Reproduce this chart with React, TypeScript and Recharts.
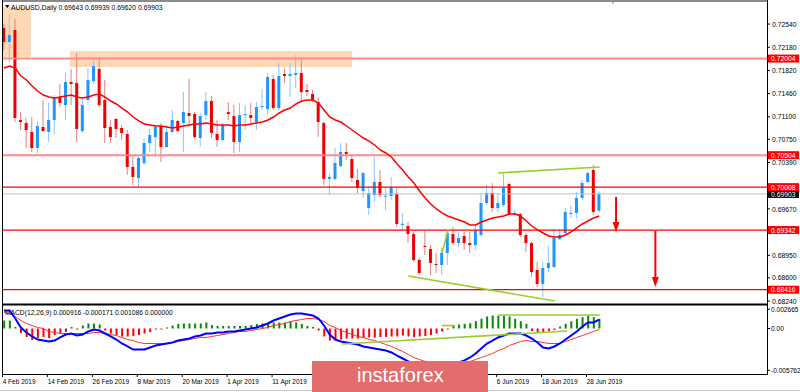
import React from 'react';
import { ComposedChart, Bar, Line, XAxis, YAxis, ReferenceLine, ReferenceArea } from 'recharts';

// AUDUSD daily, 4 Feb 2019 .. 2 Jul 2019 (bar index 0..106)
const opens = [
  0.72478, 0.72261, 0.72447, 0.7105, 0.71004, 0.70864, 0.70616, 0.70942, 0.70864, 0.7105,
  0.71407, 0.71283, 0.7164, 0.71625, 0.7088, 0.71361, 0.71656, 0.71842, 0.71361, 0.70942,
  0.71066, 0.70926, 0.70833, 0.70321, 0.7015, 0.70383, 0.70693, 0.70786, 0.70957, 0.70631,
  0.70864, 0.71035, 0.71004, 0.71159, 0.71143, 0.70771, 0.71128, 0.71345, 0.70833, 0.7074,
  0.71174, 0.71112, 0.70709, 0.71128, 0.71128, 0.71019, 0.71252, 0.71221, 0.71687, 0.71236,
  0.71764, 0.71733, 0.71749, 0.7178, 0.71516, 0.71454, 0.7133, 0.71004, 0.70135, 0.70135,
  0.70336, 0.70554, 0.70445, 0.70119, 0.69948, 0.69684, 0.69886, 0.70088, 0.69871, 0.69871,
  0.69902, 0.6942, 0.69405, 0.69281, 0.68877, 0.69095, 0.69048, 0.68815, 0.688, 0.68986,
  0.69281, 0.69141, 0.6925, 0.69141, 0.6911, 0.69265, 0.69762, 0.69917, 0.69684, 0.69731,
  0.70057, 0.69576, 0.69591, 0.69265, 0.69141, 0.68722, 0.68505, 0.68753, 0.68769, 0.69203,
  0.69296, 0.69591, 0.69607, 0.6984, 0.70088, 0.70274, 0.69643,
];
const highs = [
  0.7254, 0.7268, 0.7262, 0.71174, 0.71081, 0.71097, 0.71035, 0.71361, 0.71314, 0.71438,
  0.71609, 0.7178, 0.71842, 0.7209, 0.71407, 0.71857, 0.71982, 0.72013, 0.71671, 0.7105,
  0.71081, 0.70973, 0.70895, 0.70507, 0.70507, 0.70771, 0.70911, 0.70973, 0.71004, 0.70973,
  0.71205, 0.7105, 0.71485, 0.71687, 0.71174, 0.71159, 0.71485, 0.71423, 0.7105, 0.71004,
  0.7133, 0.71283, 0.71314, 0.71283, 0.71314, 0.7133, 0.71532, 0.7178, 0.71749, 0.71935,
  0.71842, 0.71935, 0.72059, 0.71997, 0.71609, 0.71516, 0.71407, 0.71019, 0.70228, 0.70616,
  0.70693, 0.70693, 0.70507, 0.7029, 0.70243, 0.70026, 0.70476, 0.70274, 0.7001, 0.70166,
  0.69995, 0.69607, 0.69467, 0.69312, 0.68908, 0.69327, 0.6911, 0.68986, 0.69064, 0.69343,
  0.69389, 0.69312, 0.69312, 0.69312, 0.6942, 0.69917, 0.70041, 0.70072, 0.69917, 0.70228,
  0.70072, 0.69653, 0.69607, 0.69296, 0.69157, 0.68846, 0.68846, 0.69095, 0.69358, 0.69358,
  0.69684, 0.69731, 0.69933, 0.70119, 0.70243, 0.70352, 0.69939,
];
const lows = [
  0.72137, 0.71951, 0.71019, 0.70895, 0.70616, 0.70554, 0.70538, 0.70864, 0.70709, 0.70817,
  0.71252, 0.7105, 0.71283, 0.70709, 0.70849, 0.71314, 0.71609, 0.71252, 0.70693, 0.70693,
  0.70771, 0.7074, 0.70197, 0.70041, 0.7001, 0.70352, 0.70554, 0.70476, 0.70398, 0.70616,
  0.70849, 0.70864, 0.70554, 0.70942, 0.70755, 0.70631, 0.7105, 0.70771, 0.70631, 0.70709,
  0.7105, 0.70538, 0.70554, 0.70895, 0.71004, 0.70895, 0.71205, 0.71128, 0.71205, 0.71205,
  0.71625, 0.71407, 0.71547, 0.7133, 0.71423, 0.7133, 0.70786, 0.70041, 0.69886, 0.70119,
  0.70321, 0.70429, 0.70088, 0.69917, 0.6984, 0.69576, 0.69778, 0.69855, 0.69653, 0.69809,
  0.69389, 0.69343, 0.69141, 0.68846, 0.68644, 0.68955, 0.68644, 0.68675, 0.68644, 0.688,
  0.6911, 0.69079, 0.69033, 0.68986, 0.69033, 0.69234, 0.69731, 0.69622, 0.69622, 0.697,
  0.69576, 0.69545, 0.69234, 0.69002, 0.68613, 0.68458, 0.68303, 0.68691, 0.68753, 0.69188,
  0.69265, 0.69529, 0.69529, 0.69809, 0.70072, 0.69576, 0.6962,
];
const closes = [
  0.72261, 0.7237, 0.71081, 0.71019, 0.70895, 0.70616, 0.70957, 0.7088, 0.7105, 0.71407,
  0.71314, 0.7164, 0.71609, 0.70911, 0.71283, 0.71671, 0.71888, 0.71283, 0.70926, 0.70786,
  0.70911, 0.70849, 0.70321, 0.70166, 0.7046, 0.70693, 0.70817, 0.70942, 0.70631, 0.70864,
  0.7105, 0.7088, 0.71174, 0.71112, 0.70786, 0.71112, 0.71345, 0.70849, 0.7074, 0.70973,
  0.71143, 0.70709, 0.71128, 0.71143, 0.71081, 0.71252, 0.71267, 0.71718, 0.71236, 0.71733,
  0.71733, 0.71764, 0.7178, 0.71485, 0.71485, 0.71361, 0.71019, 0.70135, 0.70166, 0.70383,
  0.70554, 0.70523, 0.7015, 0.69995, 0.70228, 0.69917, 0.70088, 0.69886, 0.69875, 0.7001,
  0.69436, 0.6944, 0.69281, 0.68877, 0.68675, 0.69079, 0.68831, 0.688, 0.68986, 0.69296,
  0.69141, 0.69219, 0.69141, 0.6911, 0.69343, 0.69762, 0.69917, 0.69684, 0.69762, 0.69995,
  0.69591, 0.69607, 0.69265, 0.69141, 0.68691, 0.68505, 0.68753, 0.68831, 0.69219, 0.69265,
  0.69622, 0.69607, 0.6984, 0.70072, 0.70228, 0.69622, 0.69903,
];
const movingAvg = [
  0.71857, 0.71888, 0.71857, 0.71733, 0.71671, 0.71578, 0.715, 0.71438, 0.71407, 0.71392,
  0.71407, 0.71423, 0.71438, 0.71407, 0.71392, 0.71407, 0.71438, 0.71454, 0.71407, 0.71345,
  0.71299, 0.71236, 0.71174, 0.71097, 0.71035, 0.70988, 0.70973, 0.70957, 0.70957, 0.70942,
  0.70926, 0.70942, 0.70957, 0.70973, 0.70988, 0.70988, 0.71004, 0.70988, 0.70973, 0.70973,
  0.70973, 0.70957, 0.70973, 0.70973, 0.70988, 0.71004, 0.71019, 0.7105, 0.71097, 0.71159,
  0.71205, 0.71236, 0.71299, 0.71345, 0.71361, 0.71361, 0.71314, 0.71205, 0.71097, 0.7105,
  0.71019, 0.70957, 0.70895, 0.70833, 0.70771, 0.70724, 0.70662, 0.70585, 0.70538, 0.70476,
  0.70367, 0.70274, 0.70166, 0.70072, 0.69948, 0.6984, 0.69747, 0.69669, 0.69607, 0.6956,
  0.69529, 0.69498, 0.69467, 0.6942, 0.6942, 0.69467, 0.69498, 0.69529, 0.69545, 0.6956,
  0.69591, 0.69591, 0.6956, 0.69482, 0.69405, 0.69343, 0.69296, 0.6925, 0.69234, 0.69234,
  0.69265, 0.69312, 0.69374, 0.69436, 0.69482, 0.69529, 0.6956,
];
const macdMain = [
  0.00248, 0.00248, 0.00138, 0.00014, -0.00055, -0.0011, -0.00152, -0.00166, -0.00179, -0.00166,
  -0.00124, -0.00083, -0.00069, -0.00097, -0.00083, -0.00041, -0.00014, -0.00028, -0.00069, -0.0011,
  -0.00152, -0.00207, -0.00248, -0.0029, -0.0029, -0.0029, -0.00262, -0.00235, -0.00221, -0.00207,
  -0.00193, -0.00166, -0.00152, -0.00138, -0.0011, -0.00097, -0.00069, -0.00069, -0.00055, -0.00055,
  -0.00041, -0.00041, -0.00028, -0.00014, 0, 0.00014, 0.00041, 0.00069, 0.0011, 0.00138,
  0.00166, 0.00193, 0.00207, 0.00207, 0.00193, 0.00179, 0.00138, 0.00041, -0.00083, -0.00152,
  -0.00179, -0.00193, -0.00207, -0.00221, -0.00248, -0.00262, -0.00276, -0.0029, -0.00304, -0.00331,
  -0.00373, -0.00414, -0.00455, -0.00497, -0.00538, -0.00566, -0.00576, -0.00576, -0.00566, -0.00538,
  -0.0051, -0.00469, -0.00441, -0.004, -0.00345, -0.00276, -0.00207, -0.00166, -0.00124, -0.00097,
  -0.00069, -0.00069, -0.00069, -0.00097, -0.00138, -0.00193, -0.00262, -0.00276, -0.00248, -0.00207,
  -0.00152, -0.00097, -0.00041, 0.00028, 0.00083, 0.00083, 0.00124,
];
const macdSignal = [
  0.00221, 0.00207, 0.00166, 0.0011, 0.00069, 0.00041, 0.00014, 0, -0.00041, -0.00055,
  -0.00069, -0.00069, -0.00069, -0.00069, -0.00069, -0.00069, -0.00055, -0.00055, -0.00069, -0.00083,
  -0.00097, -0.00124, -0.00152, -0.00166, -0.00193, -0.00207, -0.00207, -0.00207, -0.00207, -0.00207,
  -0.00193, -0.00179, -0.00166, -0.00152, -0.00138, -0.00124, -0.00124, -0.0011, -0.00097, -0.00083,
  -0.00069, -0.00055, -0.00041, -0.00041, -0.00028, -0.00014, 0, 0.00014, 0.00041, 0.00055,
  0.00069, 0.00097, 0.0011, 0.00124, 0.00138, 0.00138, 0.00124, 0.00097, 0.00041, 0.00014,
  -0.00028, -0.00055, -0.00083, -0.0011, -0.00124, -0.00152, -0.00166, -0.00193, -0.00221, -0.00248,
  -0.00283, -0.00317, -0.00359, -0.004, -0.00428, -0.00455, -0.00469, -0.00483, -0.00497, -0.00497,
  -0.00497, -0.00483, -0.00469, -0.00455, -0.00428, -0.004, -0.00373, -0.00345, -0.00304, -0.00276,
  -0.00235, -0.00207, -0.00179, -0.00166, -0.00179, -0.00179, -0.00193, -0.00207, -0.00207, -0.00207,
  -0.00179, -0.00152, -0.00124, -0.00097, -0.00069, -0.00041, -0.00014,
];
const macdHist = [
  0.0011, 0.0011, 0.0002, -0.00062, -0.00117, -0.00159, -0.00131, -0.00117, -0.00131, -0.0009,
  -0.00062, -0.00048, 0.0002, -0.00014, 0.00041, 0.00069, 0.00069, 0.00055, -0.00028, -0.00069,
  -0.0009, -0.0011, -0.0011, -0.00104, -0.0009, -0.00069, -0.00048, -0.00014, -0.00014, 0.00014,
  0.00041, 0.00062, 0.00069, 0.00069, 0.00069, 0.00069, 0.00083, 0.00048, 0.00035, 0.00035,
  0.00035, 0.00035, 0.00035, 0.00035, 0.00048, 0.00062, 0.00069, 0.00076, 0.00083, 0.00083,
  0.00083, 0.00097, 0.00083, 0.00062, 0.00035, 0.0002, -0.00028, -0.0011, -0.00166, -0.00166,
  -0.00152, -0.00138, -0.00138, -0.00138, -0.00131, -0.00124, -0.00124, -0.00117, -0.00117, -0.0011,
  -0.0011, -0.00097, -0.0011, -0.00117, -0.0011, -0.00104, -0.0009, -0.00069, -0.00041, -0.00014,
  0.00041, 0.00055, 0.00065, 0.00073, 0.00101, 0.00134, 0.00166, 0.00179, 0.00179, 0.00179,
  0.00166, 0.00134, 0.00101, 0.00065, -0.00035, -0.00048, -0.00048, -0.00035, -0.00021, 0.00028,
  0.00065, 0.00101, 0.00134, 0.00156, 0.00179, 0.00156, 0.00134,
];

// time-scale labels that are visible (the ones between 11 Apr and 6 Jun sit under the logo)
const dateTickBars = [0, 8, 16, 24, 32, 40, 48, 88, 96, 104];
const dateTickLabels = [
  '4 Feb 2019', '14 Feb 2019', '26 Feb 2019', '8 Mar 2019', '20 Mar 2019', '1 Apr 2019', '11 Apr 2019',
  '6 Jun 2019', '18 Jun 2019', '28 Jun 2019',
];
const priceTicks = [0.7254, 0.7218, 0.7182, 0.7146, 0.711, 0.7075, 0.7039, 0.6967, 0.6895, 0.686, 0.6824];
const levelPrices = [0.72004, 0.70504, 0.70008, 0.69342, 0.68416];
const softLevels = [0.72004, 0.70504];
const bidPrice = 0.69903;
const macdTicks = [0.002665, 0, -0.005762];
const macdTickLabels = ['0.002665', '0.00', '-0.005762'];

// drawn annotations, in bar index / price
const zones = [
  { x1: -0.18, x2: 4.8, y1: 0.72804, y2: 0.72028 },
  { x1: 11.75, x2: 62, y1: 0.72121, y2: 0.71873 },
];
const priceTrendLines = [
  [{ x: 72, y: 0.68629 }, { x: 98.1, y: 0.68241 }],
  [{ x: 78, y: 0.68986 }, { x: 79.1, y: 0.69343 }],
  [{ x: 88, y: 0.70228 }, { x: 106.1, y: 0.70321 }],
];
const arrows = [
  [{ x: 109, y: 0.69855 }, { x: 109, y: 0.69312 }],
  [{ x: 116, y: 0.69327 }, { x: 116, y: 0.68458 }],
];
const macdTrendLines = [
  [{ x: 60.2, y: -0.00214 }, { x: 100.3, y: -0.00035 }],
  [{ x: 78, y: 0.00041 }, { x: 80.3, y: 0.00041 }],
  [{ x: 88, y: 0.00186 }, { x: 106.1, y: 0.00186 }],
];

const X_DOMAIN: [number, number] = [-0.18, 135.88];
const FONT = '"Liberation Sans", Arial, sans-serif';
const LAST = closes.length - 1;

const rows = closes.map((c, i) => ({
  i, o: opens[i], h: highs[i], l: lows[i], c,
  ma: movingAvg[i], macd: macdMain[i], sig: macdSignal[i], hist: macdHist[i],
}));

const Candle = (props: any) => {
  const { x, y, width, height, payload } = props;
  if (!payload) return null;
  const top = Math.min(y, y + height);
  const bottom = Math.max(y, y + height);
  const { o, h, l, c } = payload;
  const k = h > l ? (bottom - top) / (h - l) : 0;
  const yo = top + (h - o) * k;
  const yc = top + (h - c) * k;
  const cx = x + width / 2;
  const up = c >= o;
  return (
    <g>
      <line x1={cx} x2={cx} y1={top} y2={bottom} stroke={up ? '#8cc4ff' : '#d98585'} strokeWidth={1} />
      <rect x={cx - 1.5} y={Math.min(yo, yc)} width={3} height={Math.max(1, Math.abs(yc - yo))} fill={up ? '#1e96ff' : '#f00000'} />
    </g>
  );
};

const HistBar = (props: any) => {
  const { x, y, width, height, payload } = props;
  if (!payload) return null;
  const top = Math.min(y, y + height);
  return (
    <rect x={x + width / 2 - 1} y={top} width={2} height={Math.max(0.8, Math.abs(height))}
      fill={payload.hist >= 0 ? '#0b870b' : '#ff0000'} />
  );
};

const Arrow = (props: any) => {
  const { x1, y1, x2, y2 } = props;
  return (
    <g>
      <line x1={x1} y1={y1} x2={x2} y2={y2 - 8} stroke="#f00" strokeWidth={2} />
      <polygon points={`${x2 - 3.5},${y2 - 10} ${x2 + 3.5},${y2 - 10} ${x2},${y2}`} fill="#f00" />
    </g>
  );
};

const PriceTick = (props: any) => {
  const { x, y, payload } = props;
  const v = payload.value;
  const text = Number(v).toFixed(5);
  const boxed = levelPrices.includes(v) || v === bidPrice;
  if (boxed) {
    return (
      <g>
        <rect x={x + 1} y={y - 4} width={31} height={8} fill={v === bidPrice ? '#000' : '#ff0000'} />
        <text x={x + 4} y={y + 2.6} fontSize={6.8} fontFamily={FONT} fill="#fff">{text}</text>
      </g>
    );
  }
  return (
    <g>
      <line x1={x} x2={x + 3} y1={y} y2={y} stroke="#000" />
      <text x={x + 5} y={y + 2.6} fontSize={6.8} fontFamily={FONT} fill="#000">{text}</text>
    </g>
  );
};

const MacdTick = (props: any) => {
  const { x, y, payload } = props;
  const k = macdTicks.indexOf(payload.value);
  return (
    <g>
      <line x1={x} x2={x + 3} y1={y} y2={y} stroke="#000" />
      <text x={x + 4} y={y + 2.6} fontSize={6.6} fontFamily={FONT} fill="#000">{macdTickLabels[k]}</text>
    </g>
  );
};

const DateTick = (props: any) => {
  const { x, y, payload } = props;
  const k = dateTickBars.indexOf(payload.value);
  return (
    <g>
      <line x1={x - 1.5} x2={x - 1.5} y1={y} y2={y + 3} stroke="#000" />
      <text x={x - 1.3} y={y + 9.5} fontSize={6.5} fontFamily={FONT} fill="#000">{dateTickLabels[k]}</text>
    </g>
  );
};

const App: React.FC = () => {
  const title = `AUDUSD,Daily  ${opens[LAST].toFixed(5)} ${highs[LAST].toFixed(5)} ${lows[LAST].toFixed(5)} ${closes[LAST].toFixed(5)}`;
  return (
    <div style={{ position: 'absolute', left: 0, top: 0, width: 800, height: 392, background: '#fff', overflow: 'hidden' }}>
      <div style={{ position: 'absolute', left: 0, top: 0 }}>
        <ComposedChart width={800} height={305} data={rows} margin={{ top: 2, right: 0, bottom: 1, left: 3 }}>
          <XAxis dataKey="i" type="number" domain={X_DOMAIN} allowDataOverflow hide />
          <YAxis orientation="right" width={33} domain={[0.68194, 0.72882]} allowDataOverflow
            ticks={[...priceTicks, bidPrice, ...levelPrices]} interval={0} tick={<PriceTick />}
            tickLine={false} axisLine={false} tickSize={0} tickMargin={0} />
          {zones.map((z, k) => (
            <ReferenceArea key={k} x1={z.x1} x2={z.x2} y1={z.y1} y2={z.y2} fill="#ffa552" fillOpacity={0.42} stroke="none" ifOverflow="visible" />
          ))}
          <ReferenceLine y={bidPrice} stroke="#c0c0c0" strokeWidth={1} />
          {levelPrices.map((p) => (
            <ReferenceLine key={p} y={p} stroke={softLevels.includes(p) ? '#ff8a8a' : '#ff0000'} strokeWidth={softLevels.includes(p) ? 2 : 1.2} />
          ))}
          <Bar dataKey={(d: any) => [d.l, d.h]} barSize={3} shape={<Candle />} isAnimationActive={false} />
          <Line dataKey="ma" type="linear" stroke="#ff0000" strokeWidth={1.5} dot={false} isAnimationActive={false} />
          {priceTrendLines.map((s, k) => (
            <ReferenceLine key={k} segment={s} stroke="#9acd32" strokeWidth={1.6} ifOverflow="visible" />
          ))}
          {arrows.map((s, k) => (
            <ReferenceLine key={k} segment={s} shape={<Arrow />} ifOverflow="visible" />
          ))}
        </ComposedChart>
      </div>
      <div style={{ position: 'absolute', left: 0, top: 304 }}>
        <ComposedChart width={800} height={88} data={rows} margin={{ top: 1, right: 0, bottom: 0, left: 3 }}>
          <XAxis dataKey="i" type="number" domain={X_DOMAIN} allowDataOverflow ticks={dateTickBars} interval={0}
            tick={<DateTick />} tickLine={false} axisLine={false} height={18} tickSize={0} tickMargin={0} />
          <YAxis orientation="right" width={33} domain={[-0.006279, 0.003243]} allowDataOverflow ticks={macdTicks}
            interval={0} tick={<MacdTick />} tickLine={false} axisLine={false} tickSize={0} tickMargin={0} />
          <Bar dataKey="hist" barSize={2} shape={<HistBar />} isAnimationActive={false} />
          <Line dataKey="sig" type="linear" stroke="#ff3030" strokeWidth={1} dot={false} isAnimationActive={false} />
          <Line dataKey="macd" type="linear" stroke="#0000ff" strokeWidth={2} dot={false} isAnimationActive={false} />
          {macdTrendLines.map((s, k) => (
            <ReferenceLine key={k} segment={s} stroke="#9acd32" strokeWidth={1.6} ifOverflow="visible" />
          ))}
        </ComposedChart>
      </div>
      <svg width={800} height={392} style={{ position: 'absolute', left: 0, top: 0, pointerEvents: 'none' }}>
        <line x1={2} x2={767} y1={1} y2={1} stroke="#8a8a8a" strokeWidth={2} />
        <line x1={2.5} x2={2.5} y1={0} y2={375} stroke="#000" />
        <line x1={767.5} x2={767.5} y1={0} y2={375} stroke="#000" />
        <line x1={2} x2={767} y1={304.5} y2={304.5} stroke="#000" strokeWidth={2} />
        <line x1={2} x2={767} y1={374.5} y2={374.5} stroke="#000" strokeWidth={1.2} />
        <line x1={0} x2={800} y1={390.5} y2={390.5} stroke="#c8c8c8" />
        <polygon points="5,5 9.5,5 7.25,8" fill="#000" />
        <text x={11} y={9.5} fontSize={6.8} fontFamily={FONT} fill="#000">{title}</text>
        <polygon points="611,1 615,1 613,4" fill="#999" />
        <text x={5} y={315} fontSize={6.7} fontFamily={FONT} fill="#000">MACD(12,26,9) 0.000916 -0.000171 0.001086 0.000000</text>
        <rect x={312} y={361} width={176} height={31} fill="#e36d6d" />
        <text x={357} y={382} fontSize={20} fontFamily={FONT} fill="#fff">instaforex</text>
      </svg>
    </div>
  );
};

export default App;
